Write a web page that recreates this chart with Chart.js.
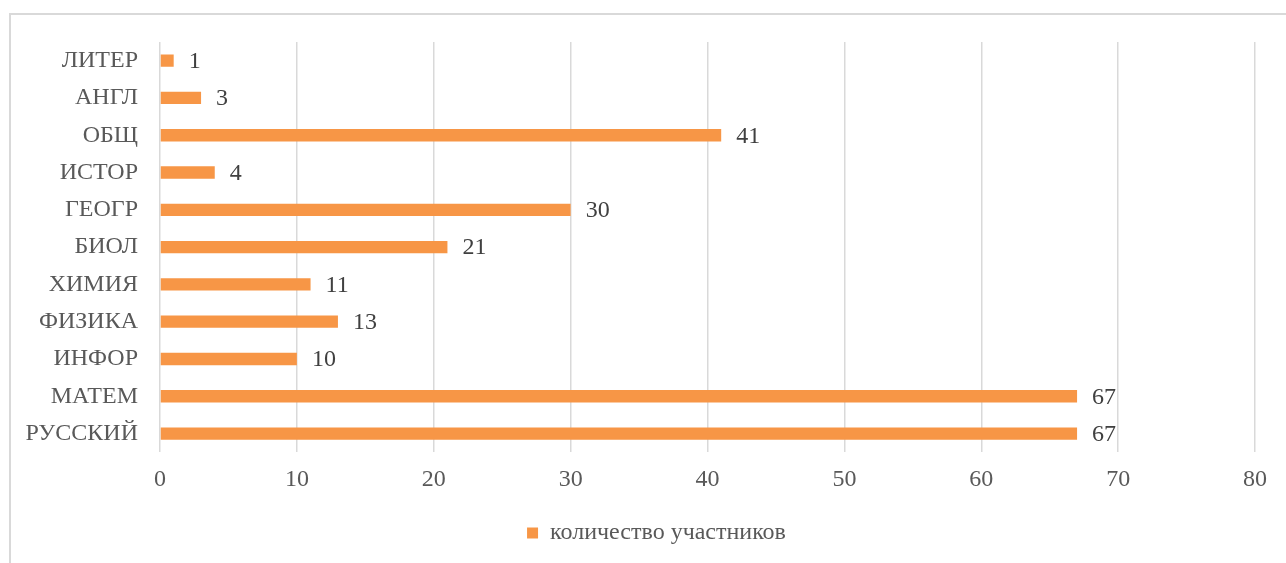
<!DOCTYPE html>
<html>
<head>
<meta charset="utf-8">
<script src="https://cdn.jsdelivr.net/npm/chart.js@4"></script>
<style>
  body { margin: 0; background: #fff; }
  #wrap { position: absolute; left: 0; top: 0; width: 1286px; height: 563px; }
  #frame { position: absolute; left: 9px; top: 13px; width: 1300px; height: 600px; border: 2px solid #d9d9d9; box-sizing: border-box; pointer-events: none; }
</style>
</head>
<body>
<div id="wrap"><canvas id="subjectChart" width="1286" height="563"></canvas></div>
<div id="frame"></div>
<script>
var subjects = ['ЛИТЕР', 'АНГЛ', 'ОБЩ', 'ИСТОР', 'ГЕОГР', 'БИОЛ', 'ХИМИЯ', 'ФИЗИКА', 'ИНФОР', 'МАТЕМ', 'РУССКИЙ'];
var participants = [1, 3, 41, 4, 30, 21, 11, 13, 10, 67, 67];
var seriesName = 'количество участников';
var axisMin = 0, axisMax = 80, axisStep = 10;

var fontFamily = '"Liberation Serif", "Times New Roman", serif';

// value labels to the right of each bar
var valueLabels = {
    id: 'valueLabels',
    afterDatasetsDraw: function(chart) {
        var ctx = chart.ctx;
        var meta = chart.getDatasetMeta(0);
        ctx.save();
        ctx.font = '24px ' + fontFamily;
        ctx.fillStyle = '#404040';
        ctx.textAlign = 'left';
        ctx.textBaseline = 'middle';
        meta.data.forEach(function(bar, i) {
            ctx.fillText(String(participants[i]), bar.x + 15, bar.y + 1);
        });
        ctx.restore();
    }
};

// the original legend is centred on the frame, a bit right of the canvas centre
var legendShift = {
    id: 'legendShift',
    afterLayout: function(chart) {
        if (chart.legend) {
            chart.legend.left += 29;
            chart.legend.right += 29;
        }
    }
};

Chart.defaults.font.family = fontFamily;
Chart.defaults.color = '#595959';

var ctx = document.getElementById('subjectChart').getContext('2d');
var subjectChart = new Chart(ctx, {
    type: 'bar',
    data: {
        labels: subjects,
        datasets: [{
            label: seriesName,
            data: participants,
            backgroundColor: '#f79646',
            borderWidth: 0,
            barPercentage: 0.33,
            categoryPercentage: 1.0
        }]
    },
    options: {
        indexAxis: 'y',
        responsive: false,
        animation: false,
        layout: { padding: { top: 42, right: 31, left: 0, bottom: 8 } },
        scales: {
            x: {
                min: axisMin,
                max: axisMax,
                ticks: { stepSize: axisStep, padding: 13, font: { size: 24 }, color: '#595959' },
                grid: { color: '#d9d9d9', lineWidth: 1.5, drawTicks: false },
                border: { display: false }
            },
            y: {
                ticks: { padding: 22, font: { size: 24 }, color: '#595959' },
                grid: { display: false, drawTicks: false },
                border: { display: false },
                afterFit: function(scale) { scale.width = 160; }
            }
        },
        plugins: {
            legend: {
                position: 'bottom',
                labels: { boxWidth: 11, boxHeight: 11, font: { size: 24 }, color: '#595959', padding: 14 }
            },
            tooltip: { enabled: false }
        }
    },
    plugins: [valueLabels, legendShift]
});
</script>
</body>
</html>
